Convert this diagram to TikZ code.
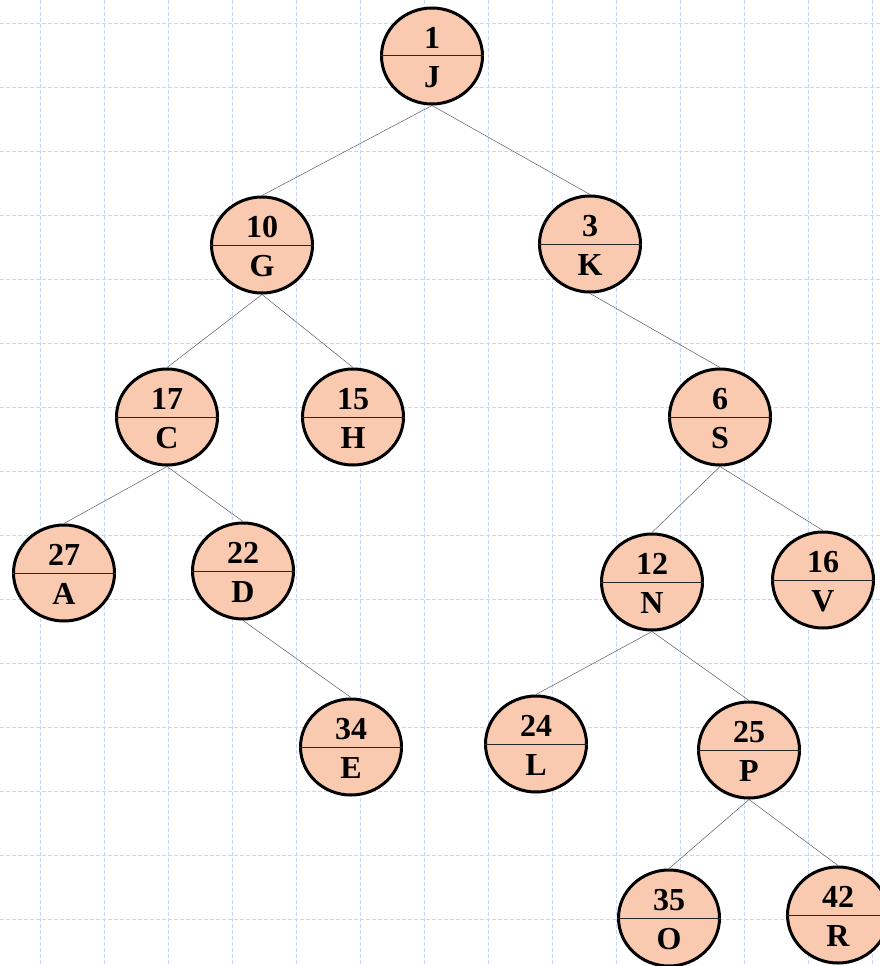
\documentclass[tikz,border=0pt]{standalone}
\usepackage{fontspec}
\setmainfont{Liberation Serif}
\usetikzlibrary{shapes.geometric,backgrounds}
\definecolor{peach}{RGB}{249,201,176}
\definecolor{gridblue}{RGB}{200,212,250}
\definecolor{edgegray}{RGB}{90,90,100}
\tikzset{
  treenode/.style={ellipse,draw=black,line width=3pt,fill=peach,minimum width=101pt,minimum height=96pt,inner sep=0pt},
  numtext/.style={inner sep=0pt,font=\bfseries\fontsize{32}{32}\selectfont},
  divider/.style={line width=1pt,draw=black!85},
  treeedge/.style={draw=edgegray,line width=0.5pt},
  gridline/.style={draw=gridblue,line width=0.8pt,dash pattern=on 4pt off 2pt}
}
\newcommand{\treenode}[5]{%
  \node[treenode] (#1) at (#2,#3) {};
  \draw[divider] (#1.west) -- (#1.east);
  \node[numtext] (#1num) at (#2,#3-18) {#4};
  \node[numtext] (#1let) at (#2,#3+21) {#5};
}
\begin{document}
\begin{tikzpicture}[x=1pt,y=-1pt]
\useasboundingbox (0,0) rectangle (880,966);
\treenode{J}{432}{56}{1}{J}
\treenode{G}{262}{245}{10}{G}
\treenode{K}{590}{244}{3}{K}
\treenode{C}{167}{417}{17}{C}
\treenode{H}{353}{417}{15}{H}
\treenode{S}{720}{417}{6}{S}
\treenode{A}{64}{573}{27}{A}
\treenode{D}{243}{571}{22}{D}
\treenode{N}{652}{582}{12}{N}
\treenode{V}{823}{580}{16}{V}
\treenode{E}{351}{747}{34}{E}
\treenode{L}{536}{744}{24}{L}
\treenode{P}{749}{750}{25}{P}
\treenode{O}{669}{918}{35}{O}
\treenode{R}{838}{915}{42}{R}
\begin{scope}[on background layer]
  \foreach \x in {40,104,...,872} \draw[gridline] (\x,0) -- (\x,966);
  \foreach \y in {23,87,...,983} \draw[gridline] (0,\y) -- (880,\y);
  \foreach \a/\b in {J/G,J/K,G/C,G/H,K/S,C/A,C/D,S/N,S/V,D/E,N/L,N/P,P/O,P/R}
    \draw[treeedge] (\a.south) -- (\b.north);
\end{scope}
\end{tikzpicture}
\end{document}
